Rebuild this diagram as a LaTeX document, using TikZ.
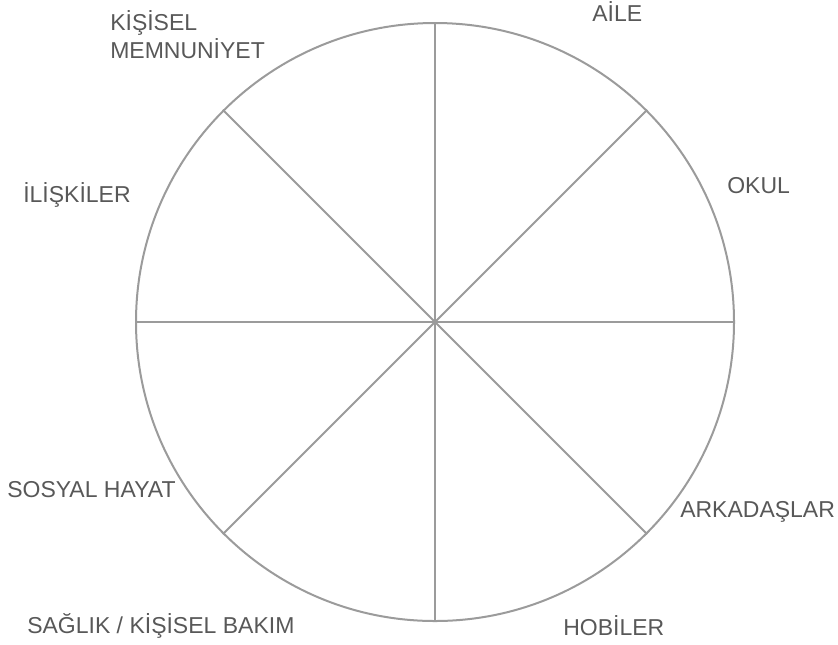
\documentclass[tikz,border=0pt]{standalone}
\usepackage{fontspec}
\setmainfont{Liberation Sans}
\usepackage{xcolor}
\usepackage{tikz}
\definecolor{spokegray}{RGB}{155,155,155}
\definecolor{labelgray}{RGB}{88,88,88}

\begin{document}
\begin{tikzpicture}[
      x=0.75pt, y=-0.75pt,
      wheelline/.style={draw=spokegray, line width=1.5pt},
      lbl/.style={text=labelgray, font=\fontsize{17.25}{21}\selectfont,
                  inner sep=0pt, anchor=base west, align=left},
    ]
    \useasboundingbox (0,0) rectangle (838,644);

    \node[wheelline, circle, minimum size=448.5pt, inner sep=0pt] (wheel) at (435,322) {};

    \foreach \ang in {0,45,...,315}
      \draw[wheelline] (wheel.center) -- (wheel.\ang);

    % base of a two-line node is its last line
    \node[lbl] (kisisel)   at (110,58)  {KİŞİSEL\\MEMNUNİYET};
    \node[lbl] (aile)      at (592,21)  {AİLE};
    \node[lbl] (okul)      at (727,193) {OKUL};
    \node[lbl] (iliskiler) at (23,202)  {İLİŞKİLER};
    \node[lbl] (sosyal)    at (7,497)   {SOSYAL HAYAT};
    \node[lbl] (arkadas)   at (680,517) {ARKADAŞLAR};
    \node[lbl] (saglik)    at (27,633)  {SAĞLIK / KİŞİSEL BAKIM};
    \node[lbl] (hobiler)   at (563,635) {HOBİLER};
  \end{tikzpicture}
\end{document}
